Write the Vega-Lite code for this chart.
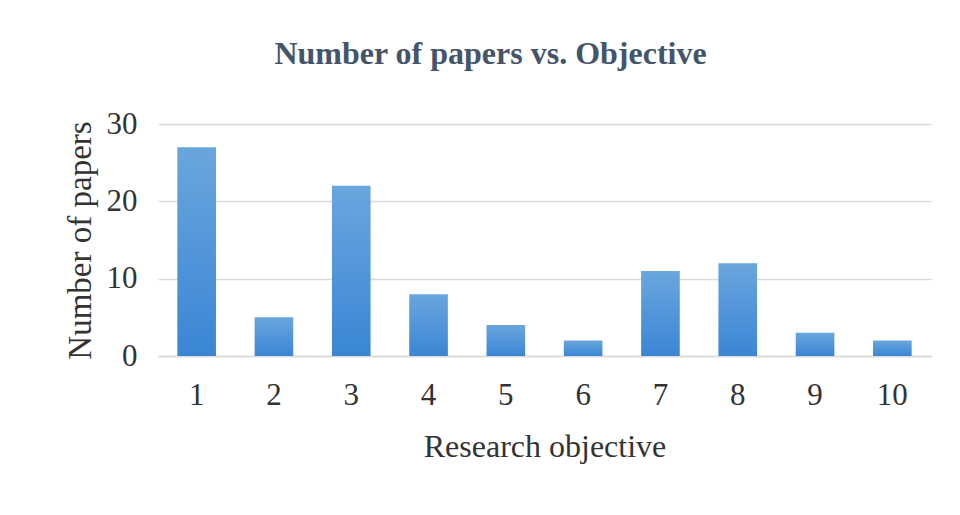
{
  "$schema": "https://vega.github.io/schema/vega-lite/v6.json",
  "autosize": {"type": "none"},
  "width": 773,
  "height": 232,
  "padding": {"left": 158, "top": 124, "right": 29, "bottom": 159},
  "background": "white",
  "title": {
    "text": "Number of papers vs. Objective",
    "font": "Liberation Serif",
    "fontSize": 32,
    "fontWeight": "bold",
    "color": "#44546a",
    "anchor": "middle",
    "dx": -54,
    "offset": 37
  },
  "data": {
    "values": [
      {"objective": "1", "papers": 27},
      {"objective": "2", "papers": 5},
      {"objective": "3", "papers": 22},
      {"objective": "4", "papers": 8},
      {"objective": "5", "papers": 4},
      {"objective": "6", "papers": 2},
      {"objective": "7", "papers": 11},
      {"objective": "8", "papers": 12},
      {"objective": "9", "papers": 3},
      {"objective": "10", "papers": 2}
    ]
  },
  "mark": {
    "type": "bar",
    "color": {
      "gradient": "linear",
      "x1": 0, "y1": 0, "x2": 0, "y2": 1,
      "stops": [
        {"offset": 0, "color": "#6aa6de"},
        {"offset": 1, "color": "#3a86d4"}
      ]
    }
  },
  "encoding": {
    "x": {
      "field": "objective",
      "type": "ordinal",
      "sort": null,
      "scale": {"paddingInner": 0.5, "paddingOuter": 0.25},
      "axis": {
        "title": "Research objective",
        "labelAngle": 0,
        "labelFont": "Liberation Serif",
        "labelFontSize": 31,
        "labelColor": "#333333",
        "labelPadding": 24,
        "titleFont": "Liberation Serif",
        "titleFontSize": 32,
        "titleFontWeight": "normal",
        "titleColor": "#333333",
        "titlePadding": 21,
        "ticks": false,
        "domainColor": "#d9d9d9",
        "domainWidth": 1.5
      }
    },
    "y": {
      "field": "papers",
      "type": "quantitative",
      "scale": {"domain": [0, 30]},
      "axis": {
        "title": "Number of papers",
        "values": [0, 10, 20, 30],
        "labelFont": "Liberation Serif",
        "labelFontSize": 31,
        "labelColor": "#333333",
        "labelPadding": 21,
        "titleFont": "Liberation Serif",
        "titleFontSize": 33,
        "titleFontWeight": "normal",
        "titleColor": "#333333",
        "titlePadding": 9,
        "ticks": false,
        "domain": false,
        "grid": true,
        "gridColor": "#d9d9d9",
        "gridWidth": 1.5
      }
    }
  },
  "config": {"view": {"stroke": null}}
}
